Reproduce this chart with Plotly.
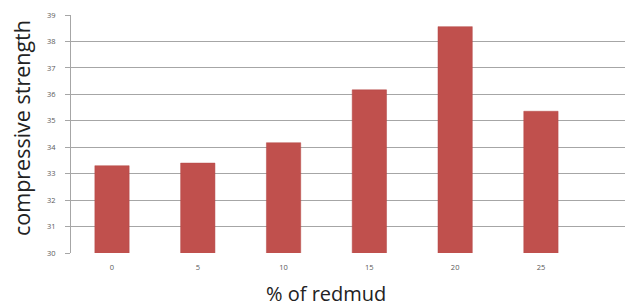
import plotly.graph_objects as go

categories = ["0", "5", "10", "15", "20", "25"]
strength = [33.3, 33.4, 34.17, 36.17, 38.56, 35.36]
y_ticks = [30, 31, 32, 33, 34, 35, 36, 37, 38, 39]

fig = go.Figure()
fig.add_trace(go.Bar(
    x=categories, y=strength,
    marker=dict(color="#C0504D", line=dict(color="#B54946", width=0.5)),
    width=0.4,
))

fig.update_layout(
    width=625, height=307,
    margin=dict(l=71, r=0, t=15, b=54),
    paper_bgcolor="white", plot_bgcolor="white",
    showlegend=False,
    font=dict(family="Open Sans, DejaVu Sans, sans-serif", color="#404040"),
)
fig.update_xaxes(
    type="category",
    range=[-0.478, 5.98],
    showgrid=False,
    showline=False,
    ticks="",
    tickfont=dict(size=7.5, color="#595959"),
    ticklabelstandoff=8,
)
fig.update_yaxes(
    range=[30, 39],
    tickvals=y_ticks,
    showgrid=True, gridcolor="#A6A6A6", gridwidth=1,
    showline=True, linecolor="#A6A6A6", linewidth=1,
    ticks="outside", ticklen=5, tickcolor="#A6A6A6",
    tickfont=dict(size=7.5, color="#595959"),
    ticklabelstandoff=8,
    zeroline=False,
)
fig.add_annotation(
    text="compressive strength", xref="paper", yref="paper",
    x=0, y=0.5, xanchor="center", yanchor="middle",
    xshift=-50, yshift=6, textangle=-90, showarrow=False,
    font=dict(size=21.5, color="#222222"),
)
fig.add_annotation(
    text="% of redmud", xref="paper", yref="paper",
    x=0.5, y=0, xanchor="center", yanchor="middle",
    xshift=-22, yshift=-40, showarrow=False,
    font=dict(size=20, color="#222222"),
)

fig.write_html(
    "out.html",
    config={"displayModeBar": False},
    post_script="document.body.style.margin='0';document.body.style.overflow='hidden';",
)
